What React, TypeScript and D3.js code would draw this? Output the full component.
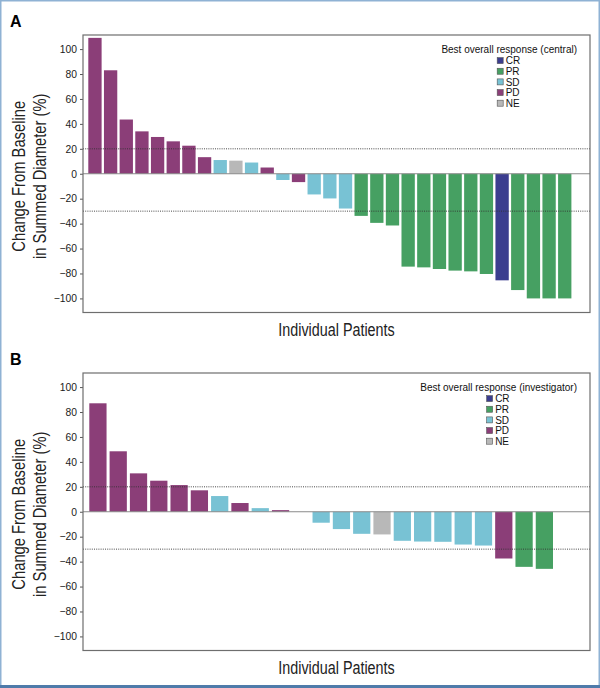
import { useEffect, useRef } from "react"
import * as d3 from "d3"

// response categories and their colours (legend order)
const CATEGORIES = ["CR", "PR", "SD", "PD", "NE"]
const CAT_COLORS = ["#3b3d8f", "#46a062", "#78c2d4", "#8b3e78", "#b8b8b8"]

// y axis ticks
const Y_TICKS = [100, 80, 60, 40, 20, 0, -20, -40, -60, -80, -100]
const THRESHOLDS = [20, -30]

// panel A: central review
const A_VALUES = [109, 83, 43.5, 34, 29.5, 26, 22.5, 13.3, 11, 10.5, 9, 5, -5, -6.7, -16.6, -19.8, -27.9, -33.8, -39.4, -41.5, -74.5, -75.1, -76.4, -77.7, -78.3, -80.4, -85.5, -93.3, -100, -100, -100]
const A_RESPONSE = ["PD", "PD", "PD", "PD", "PD", "PD", "PD", "PD", "SD", "NE", "SD", "PD", "SD", "PD", "SD", "SD", "SD", "PR", "PR", "PR", "PR", "PR", "PR", "PR", "PR", "PR", "CR", "PR", "PR", "PR", "PR"]

// panel B: investigator review
const B_VALUES = [87, 48.5, 30.8, 24.9, 21.4, 17.2, 12.6, 7, 2.9, 1.3, 0, -8.8, -13.9, -17.7, -18.2, -23.3, -23.9, -24.1, -26.3, -27.1, -37.5, -44.2, -45.8]
const B_RESPONSE = ["PD", "PD", "PD", "PD", "PD", "PD", "SD", "PD", "SD", "PD", "SD", "SD", "SD", "SD", "NE", "SD", "SD", "SD", "SD", "SD", "PD", "PR", "PR"]

const SANS = "'Liberation Sans', Arial, Helvetica, sans-serif"
// no narrow face installed, so the axis titles are squeezed horizontally
const NARROW_SCALE = 0.82

type Panel = {
  top: number
  letter: string
  values: number[]
  responses: string[]
  legendTitle: string
  inset: [number, number]
}

export default function App() {
  const svgRef = useRef<SVGSVGElement>(null)

  useEffect(() => {
    if (!svgRef.current) return
    const svg = d3.select(svgRef.current)
    svg.selectAll("*").remove()

    const color = d3.scaleOrdinal<string, string>().domain(CATEGORIES).range(CAT_COLORS)

    // outer figure border
    svg.append("rect").attr("x", 0.75).attr("y", 0.75).attr("width", 598.5).attr("height", 686)
      .attr("fill", "#fff").attr("stroke", "#8fb2d4").attr("stroke-width", 1.5)
    svg.append("line").attr("x1", 0).attr("x2", 600).attr("y1", 686.5).attr("y2", 686.5)
      .attr("stroke", "#4f7baa").attr("stroke-width", 3)

    const drawPanel = (p: Panel) => {
      const x0 = 83, x1 = 590
      const y0 = p.top, y1 = p.top + 277.5
      const g = svg.append("g")

      const y = d3.scaleLinear().domain([-111.3, 111.3]).range([y1, y0])
      const x = d3.scaleBand<number>()
        .domain(d3.range(p.values.length))
        .range([x0 + p.inset[0], x1 - p.inset[1]])
        .paddingInner(0.15)

      // bars
      g.selectAll(".bar")
        .data(p.values)
        .enter()
        .append("rect")
        .attr("x", (_, i) => x(i)!)
        .attr("width", x.bandwidth())
        .attr("y", (d) => y(Math.max(0, d)))
        .attr("height", (d) => Math.abs(y(d) - y(0)))
        .attr("fill", (_, i) => color(p.responses[i]))

      // zero line
      g.append("line").attr("x1", x0).attr("x2", x1).attr("y1", y(0)).attr("y2", y(0))
        .attr("stroke", "#8a8a8a").attr("stroke-width", 1)

      // response thresholds
      g.selectAll(".thr")
        .data(THRESHOLDS)
        .enter()
        .append("line")
        .attr("x1", x0).attr("x2", x1)
        .attr("y1", (d) => y(d)).attr("y2", (d) => y(d))
        .attr("stroke", "#333").attr("stroke-width", 0.9).attr("stroke-dasharray", "1,1.2")

      // y axis
      const axis = g.append("g")
        .attr("transform", `translate(${x0},0)`)
        .call(d3.axisLeft(y).tickValues(Y_TICKS).tickSize(3).tickPadding(3).tickFormat(d3.format("d")))
      axis.select(".domain").remove()
      axis.selectAll("line").attr("stroke", "#555")
      axis.selectAll("text").attr("fill", "#1a1a1a").attr("font-size", 10.3).attr("font-family", SANS)

      // frame
      g.append("rect").attr("x", x0).attr("y", y0).attr("width", x1 - x0).attr("height", y1 - y0)
        .attr("fill", "none").attr("stroke", "#6e6e6e").attr("stroke-width", 1.2)

      // panel letter
      g.append("text").attr("x", 10).attr("y", y0 - 8.5).attr("font-family", SANS)
        .attr("font-weight", "bold").attr("font-size", 16).attr("fill", "#000").text(p.letter)

      // axis titles
      const cy = (y0 + y1) / 2 + 2.5
      g.append("text").attr("transform", `translate(25,${cy}) rotate(-90) scale(${NARROW_SCALE},1)`)
        .attr("text-anchor", "middle").attr("font-family", SANS).attr("font-size", 18).attr("fill", "#222")
        .text("Change From Baseline")
      g.append("text").attr("transform", `translate(45.5,${cy}) rotate(-90) scale(${NARROW_SCALE},1)`)
        .attr("text-anchor", "middle").attr("font-family", SANS).attr("font-size", 18).attr("fill", "#222")
        .text("in Summed Diameter (%)")
      g.append("text").attr("transform", `translate(${(x0 + x1) / 2},${y1 + 23.8}) scale(${NARROW_SCALE},1)`)
        .attr("text-anchor", "middle").attr("font-family", SANS).attr("font-size", 17.5).attr("fill", "#222")
        .text("Individual Patients")

      // legend
      const titleRight = x1 - 13
      const title = g.append("text").attr("x", titleRight).attr("y", y0 + 18.3).attr("text-anchor", "end")
        .attr("font-family", SANS).attr("font-size", 10).attr("fill", "#111").text(p.legendTitle)
      const tw = (title.node() as SVGTextElement).getComputedTextLength()
      const lx = titleRight - tw / 2 - 12
      const rows = g.selectAll(".leg")
        .data(CATEGORIES)
        .enter()
        .append("g")
        .attr("transform", (_, i) => `translate(${lx},${y0 + 25.6 + i * 10.65})`)
      rows.append("rect").attr("x", 0).attr("y", -3).attr("width", 6).attr("height", 6)
        .attr("fill", (d) => color(d)).attr("stroke", "#555").attr("stroke-width", 0.6)
      rows.append("text").attr("x", 8.5).attr("y", 3.6).attr("font-family", SANS).attr("font-size", 10)
        .attr("fill", "#111").text((d) => d)
    }

    drawPanel({ top: 35, letter: "A", values: A_VALUES, responses: A_RESPONSE, legendTitle: "Best overall response (central)", inset: [5.3, 18.6] })
    drawPanel({ top: 373, letter: "B", values: B_VALUES, responses: B_RESPONSE, legendTitle: "Best overall response (investigator)", inset: [6.3, 37] })
  }, [])

  return (
    <div style={{ position: "absolute", left: 0, top: 0 }}>
      <svg ref={svgRef} width={600} height={688} style={{ display: "block" }}></svg>
    </div>
  )
}
